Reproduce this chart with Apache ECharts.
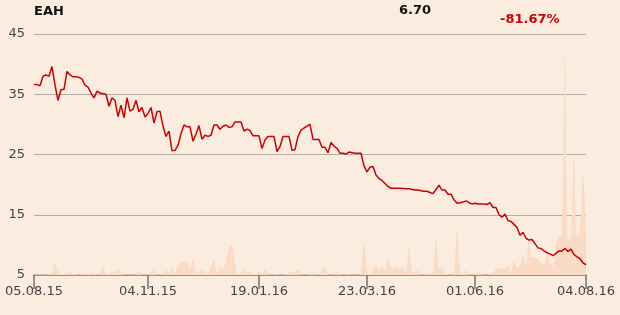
<!DOCTYPE html>
<html>
<head>
<meta charset="utf-8">
<script src="https://cdn.jsdelivr.net/npm/echarts@6/dist/echarts.min.js"></script>
<style>
html,body{margin:0;padding:0;background:#FBECE0;}
#chart{width:620px;height:315px;}
</style>
</head>
<body>
<div id="chart"></div>
<script>
// ---- data ----
const ticker = 'EAH';
const lastPrice = '6.70';
const changePct = '-81.67%';

const tickLabels = ['05.08.15', '04.11.15', '19.01.16', '23.03.16', '01.06.16', '04.08.16'];
const tickIndex = [0, 38, 75, 111, 147, 184];

const price = [
  36.6, 36.6, 36.4, 38.0, 38.2, 38.0, 39.6, 36.5, 34.0, 35.8,
  35.8, 38.8, 38.2, 37.9, 37.9, 37.8, 37.5, 36.5, 36.2, 35.2,
  34.4, 35.5, 35.2, 35.1, 35.0, 33.0, 34.4, 34.0, 31.3, 33.2,
  31.1, 34.4, 32.2, 32.5, 34.0, 32.1, 32.8, 31.2, 31.8, 32.8,
  30.2, 32.1, 32.2, 29.7, 28.0, 28.9, 25.6, 25.7, 26.5, 28.5,
  29.9, 29.6, 29.6, 27.2, 28.4, 29.8, 27.5, 28.2, 28.0, 28.2,
  29.9, 29.9, 29.2, 29.7, 29.9, 29.5, 29.6, 30.4, 30.4, 30.4,
  28.9, 29.2, 29.0, 28.1, 28.1, 28.1, 26.0, 27.4, 28.0, 28.0,
  28.0, 25.5, 26.3, 28.0, 28.0, 28.0, 25.7, 25.8, 28.0, 29.0,
  29.4, 29.7, 30.0, 27.5, 27.5, 27.5, 26.2, 26.2, 25.3, 27.0,
  26.4, 26.0, 25.2, 25.2, 25.1, 25.4, 25.3, 25.2, 25.2, 25.2,
  23.1, 22.1, 22.9, 23.0, 21.6, 21.0, 20.7, 20.2, 19.7, 19.4,
  19.4, 19.4, 19.4, 19.35, 19.3, 19.3, 19.2, 19.1, 19.1, 19.0,
  18.9, 18.9, 18.7, 18.5, 19.2, 19.9, 19.1, 19.1, 18.4, 18.4,
  17.5, 16.9, 17.0, 17.1, 17.3, 17.0, 16.8, 16.9, 16.8, 16.8,
  16.8, 16.7, 17.0, 16.2, 16.2, 15.0, 14.6, 15.1, 14.0, 13.9,
  13.4, 12.9, 11.6, 12.1, 11.1, 10.8, 10.9, 10.2, 9.5, 9.4,
  9.0, 8.7, 8.5, 8.2, 8.6, 9.0, 9.0, 9.4, 8.9, 9.3,
  8.4, 8.0, 7.7, 7.0, 6.7
];

const volume = [
  0.5, 0.5, 0.8, 0.5, 0.5, 1, 2, 12.7, 3, 1,
  1, 2, 3, 1, 1, 0.5, 1, 1.5, 1, 3,
  1.5, 0.5, 2, 8, 2, 1, 4, 2, 7, 2,
  0.5, 0.5, 0.5, 0.5, 1, 4, 1, 0.5, 1, 2,
  5, 1, 0.5, 2, 5, 1, 8, 2, 10, 12,
  14, 13, 6, 16, 4, 2, 5, 3, 1, 10,
  15, 3, 8, 5, 15, 28, 30, 12, 1, 3,
  7, 2, 3, 1, 1, 3, 1, 6, 2, 0.5,
  0.5, 1, 0.5, 0.5, 1, 2, 3, 4, 6, 1,
  0.5, 0.5, 1, 2.7, 0.5, 1, 5, 8, 1, 0.5,
  1, 3, 1, 0.5, 0.5, 1, 0.5, 0.5, 0.5, 2,
  33, 4, 1, 5, 10, 6, 8, 5, 16, 8,
  6, 9, 6, 8, 3, 28, 4, 2, 5, 1,
  0.5, 2, 1, 3, 38, 6, 8, 2, 1, 0.5,
  3, 46, 6, 1, 5, 1, 0.5, 1, 4, 1,
  0.5, 0.5, 1, 2, 6, 7, 6, 7, 9, 3,
  14, 8, 10, 20, 10, 35, 18, 18, 16, 12,
  10, 22, 14, 8, 30, 38, 42, 221, 35, 38,
  123, 40, 45, 102, 45
];

const categories = price.map((_, i) => i);

// ---- chart ----
const chart = echarts.init(document.getElementById('chart'), null, {renderer: 'canvas'});
const labelFont = "'DejaVu Sans', sans-serif";
const isTick = (idx) => tickIndex.indexOf(idx) >= 0;

chart.setOption({
  animation: false,
  backgroundColor: '#FBECE0',
  grid: {left: 34, right: 34, top: 34, bottom: 40, containLabel: false},
  graphic: [
    {type: 'text', left: 34, top: 5, style: {text: ticker, font: "bold 13px 'DejaVu Sans', sans-serif", fill: '#111'}},
    {type: 'text', left: 399, top: 4, style: {text: lastPrice, font: "bold 13px 'DejaVu Sans', sans-serif", fill: '#111'}},
    {type: 'text', left: 500, top: 13, style: {text: changePct, font: "bold 13px 'DejaVu Sans', sans-serif", fill: '#CC0000'}}
  ],
  xAxis: {
    type: 'category',
    data: categories,
    boundaryGap: false,
    axisLine: {show: true, lineStyle: {color: '#8c8884', width: 1.5}},
    axisTick: {show: true, length: 14, lineStyle: {color: '#77726e', width: 1.5}, interval: (idx) => isTick(idx)},
    axisLabel: {
      interval: (idx) => isTick(idx),
      formatter: (val, idx) => { const k = tickIndex.indexOf(Number(val)); return k >= 0 ? tickLabels[k] : ''; },
      color: '#444', fontFamily: labelFont, fontSize: 13, margin: 10
    },
    splitLine: {show: false}
  },
  yAxis: [
    {
      type: 'value', min: 5, max: 45, interval: 10,
      axisLine: {show: false}, axisTick: {show: false},
      axisLabel: {color: '#444', fontFamily: labelFont, fontSize: 13, margin: 9},
      splitLine: {lineStyle: {color: '#b4ada7', width: 1}}
    },
    {type: 'value', min: 0, max: 241, show: false, splitLine: {show: false}}
  ],
  series: [
    {
      type: 'line', yAxisIndex: 1, data: volume, symbol: 'none', smooth: 0.25,
      lineStyle: {width: 0}, areaStyle: {color: '#F9DBC6', opacity: 1}, z: 1
    },
    {
      type: 'line', yAxisIndex: 0, data: price, symbol: 'none',
      lineStyle: {color: '#CC0000', width: 1.5}, z: 3
    }
  ]
});
</script>
</body>
</html>
